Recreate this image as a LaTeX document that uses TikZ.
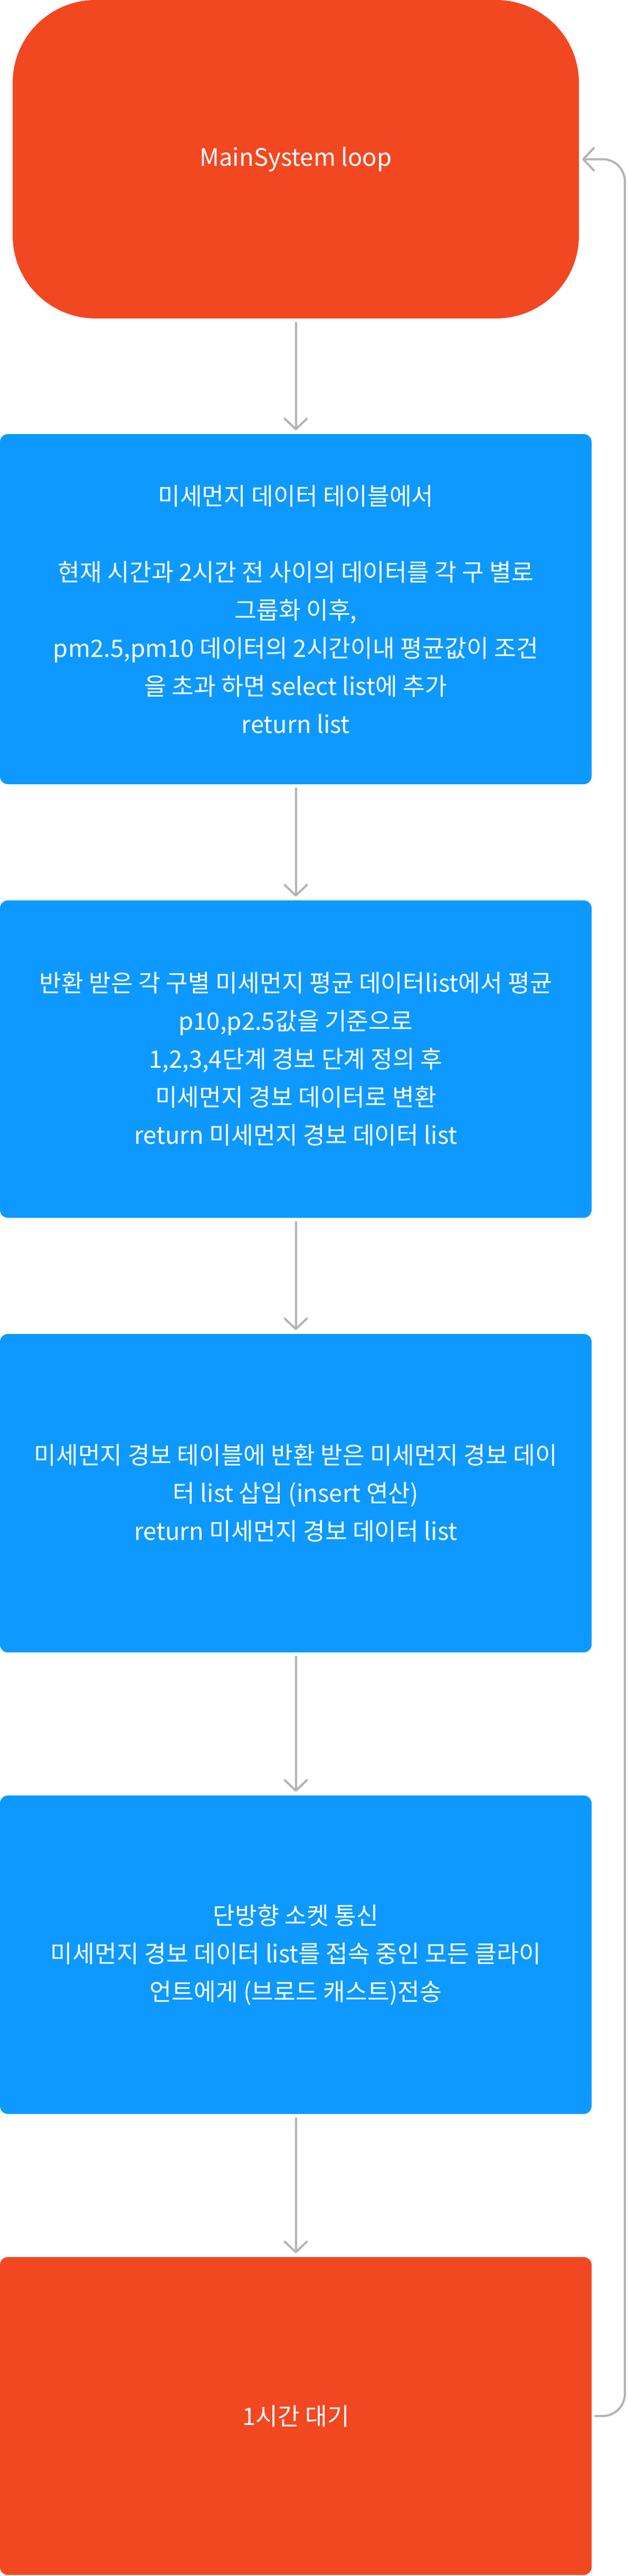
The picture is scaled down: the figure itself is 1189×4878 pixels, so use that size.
\documentclass[tikz,border=0pt]{standalone}
\usepackage{fontspec}
\setmainfont{Noto Sans CJK KR}
\usetikzlibrary{arrows.meta}
\definecolor{figorange}{HTML}{F24822}
\definecolor{figblue}{HTML}{0D99FF}
\definecolor{figgray}{HTML}{B3B3B3}
\tikzset{
  boxbase/.style={rectangle, inner sep=0pt, text=white, align=center,
    font=\fontsize{45.5}{72}\selectfont},
  startbox/.style={boxbase, fill=figorange, rounded corners=157pt,
    minimum width=1073pt, minimum height=603pt},
  orangebox/.style={boxbase, fill=figorange, rounded corners=15pt,
    minimum width=1121pt, minimum height=602pt},
  bluebox/.style={boxbase, fill=figblue, rounded corners=15pt,
    minimum width=1121pt},
  arr/.style={draw=figgray, line width=4pt, line cap=round,
    -{Straight Barb[length=20pt, width=42pt, round]}},
}
\begin{document}
\begin{tikzpicture}[x=1pt,y=-1pt]
\useasboundingbox (0,0) rectangle (1189,4878);
\node[startbox] (top) at (560.5,301.5) {MainSystem loop};
\node[bluebox, minimum height=663pt] (b1) at (560.5,1153.5)
  {미세먼지 데이터 테이블에서\\[72pt]현재 시간과 2시간 전 사이의 데이터를 각 구 별로\\그룹화 이후,\\pm2.5,pm10 데이터의 2시간이내 평균값이 조건\\을 초과 하면 select list에 추가\\return list};
\node[bluebox, minimum height=601pt] (b2) at (560.5,2005.5)
  {반환 받은 각 구별 미세먼지 평균 데이터list에서 평균\\p10,p2.5값을 기준으로\\1,2,3,4단계 경보 단계 정의 후\\미세먼지 경보 데이터로 변환\\return 미세먼지 경보 데이터 list};
\node[bluebox, minimum height=603pt] (b3) at (560.5,2827.5)
  {미세먼지 경보 테이블에 반환 받은 미세먼지 경보 데이\\터 list 삽입 (insert 연산)\\return 미세먼지 경보 데이터 list};
\node[bluebox, minimum height=603pt] (b4) at (560.5,3701.5)
  {단방향 소켓 통신\\미세먼지 경보 데이터 list를 접속 중인 모든 클라이\\언트에게 (브로드 캐스트)전송};
\node[orangebox] (b5) at (560.5,4575) {1시간 대기};
\coordinate (rb) at (1184,4575);
\coordinate (rt) at (1184,301.5);
\draw[arr, shorten <=8pt, shorten >=7pt] (top) -- (b1);
\draw[arr, shorten <=8pt, shorten >=7pt] (b1) -- (b2);
\draw[arr, shorten <=8pt, shorten >=7pt] (b2) -- (b3);
\draw[arr, shorten <=8pt, shorten >=7pt] (b3) -- (b4);
\draw[arr, shorten <=8pt, shorten >=7pt] (b4) -- (b5);
\draw[arr, rounded corners=42pt, shorten <=7pt, shorten >=6pt] (b5.east) -- (rb) -- (rt) -- (top.east);
\end{tikzpicture}
\end{document}
